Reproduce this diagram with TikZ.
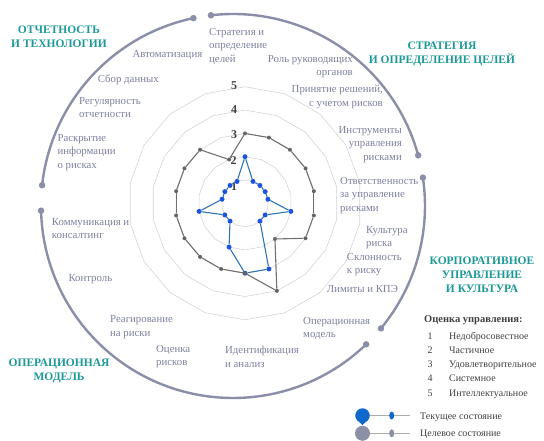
\documentclass[tikz,border=0pt]{standalone}
\usepackage{fontspec}
\setmainfont{Liberation Serif}
\usepackage{tikz}
\usetikzlibrary{calc,positioning,shapes.geometric}
\definecolor{axlbl}{RGB}{125,128,158}
\definecolor{grpc}{RGB}{27,152,152}
\definecolor{arcc}{RGB}{138,142,168}
\definecolor{curc}{RGB}{46,117,182}
\definecolor{curdot}{RGB}{28,84,224}
\definecolor{tgtc}{RGB}{112,112,112}
\definecolor{tgtdot}{RGB}{100,100,100}
\definecolor{ringc}{RGB}{212,212,212}
\definecolor{legtxt}{RGB}{64,64,64}
\definecolor{pinc}{RGB}{15,105,205}
\definecolor{pingray}{RGB}{140,144,165}
\tikzset{lbl/.style={text=axlbl,font=\fontsize{10.8}{13.5}\selectfont,inner sep=0pt},
grp/.style={text=grpc,font=\fontsize{11.5}{14}\selectfont\bfseries,align=center,inner sep=0pt,anchor=north},
legitem/.style={text=legtxt,font=\fontsize{10}{12}\selectfont,inner sep=0pt}}
\def\lv{23.3}
\begin{document}
\begin{tikzpicture}[x=1pt,y=-1pt,
	cur/.style={fill=curdot,circle,inner sep=0pt,minimum size=5pt},
	tgt/.style={fill=tgtdot,circle,inner sep=0pt,minimum size=4pt},
	arcdot/.style={fill=arcc,circle,inner sep=0pt,minimum size=6.5pt},
	ringline/.style={draw=ringc,line width=.6pt},
	lvl/.style={text=legtxt,font=\fontsize{12}{12}\selectfont\bfseries,inner sep=0pt}]
	\useasboundingbox (0,0) rectangle (544,441);
	\coordinate (C) at (245,203.3);
	\coordinate (O) at (233,206);

	% rings
	\foreach \k in {1,...,5}
		\draw[ringline] ([shift={(C)}]-90:{\k*\lv}) \foreach \i in {1,...,17}{ -- ([shift={(C)}]{-90+20*\i}:{\k*\lv})} -- cycle;

	\node[lvl] (n5) at (234,85.5) {5};
	\node[lvl] (n4) at (234,110) {4};
	\node[lvl] (n3) at (234,135) {3};
	\node[lvl] (n2) at (233.5,161) {2};
	\node[lvl] (n1) at (234,187) {1};

	% current state
	\foreach \v [count=\i from 0] in {2,1,1,1,1,2,1,1,3,3,2,1,1,2,1,1,1,1}
		\node[cur] (b\i) at ([shift={(C)}]{-90+20*\i}:{\v*\lv}) {};
	\foreach \i in {0,...,17}{
		\pgfmathtruncatemacro\nx{mod(\i+1,18)}
		\draw[curc,line width=1.1pt] (b\i) -- (b\nx);
	}

	% target state
	\foreach \v [count=\i from 0] in {3,3,3,3,3,3,3,2,4,3,3,3,3,3,3,3,3,2}
		\node[tgt] (g\i) at ([shift={(C)}]{-90+20*\i}:{\v*\lv}) {};
	\foreach \i in {0,...,17}{
		\pgfmathtruncatemacro\nx{mod(\i+1,18)}
		\draw[tgtc,line width=1.1pt] (g\i) -- (g\nx);
	}

	% axis labels
	\node[lbl,anchor=north west,align=left] (l0) at (209,28) {Стратегия и\\определение\\целей};
	\node[lbl,anchor=north east,align=right] (l1) at (353,55) {Роль руководящих\\органов};
	\node[lbl,anchor=north east,align=right] (l2) at (383,85) {Принятие решений,\\с учетом рисков};
	\node[lbl,anchor=north east,align=right] (l3) at (402,126) {Инструменты\\управления\\рисками};
	\node[lbl,anchor=north west,align=left] (l4) at (340,177) {Ответственность\\за управление\\рисками};
	\node[lbl,anchor=north west,align=left] (l5) at (366,226) {Культура\\риска};
	\node[lbl,anchor=north west,align=left] (l6) at (346.7,253) {Склонность\\к риску};
	\node[lbl,anchor=north west] (l7) at (326.7,285) {Лимиты и КПЭ};
	\node[lbl,anchor=north west,align=left] (l8) at (303,317) {Операционная\\модель};
	\node[lbl,anchor=north west,align=left] (l9) at (225,346) {Идентификация\\и анализ};
	\node[lbl,anchor=north west,align=left] (l10) at (156,345) {Оценка\\рисков};
	\node[lbl,anchor=north west,align=left] (l11) at (110,315.5) {Реагирование\\на риски};
	\node[lbl,anchor=north west] (l12) at (68.3,274) {Контроль};
	\node[lbl,anchor=north west,align=left] (l13) at (51.7,218) {Коммуникация и\\консалтинг};
	\node[lbl,anchor=north west,align=left] (l14) at (57.3,134) {Раскрытие\\информации\\о рисках};
	\node[lbl,anchor=north west,align=left] (l15) at (79,97) {Регулярность\\отчетности};
	\node[lbl,anchor=north west] (l16) at (97.7,75) {Сбор данных};
	\node[lbl,anchor=north west] (l17) at (132.3,50) {Автоматизация};

	% group arcs
	\foreach \s/\e/\n in {-173.8/-101.9/1,-96.6/-15.3/2,-8.5/39.6/3,46.1/178.6/4}{
		\draw[arcc,line width=2.4pt] ([shift={(O)}]\s:192) arc[start angle=\s,end angle=\e,radius=192];
		\node[arcdot] (s\n) at ([shift={(O)}]\s:192) {};
		\node[arcdot] (e\n) at ([shift={(O)}]\e:192) {};
	}

	\node[grp] (t1) at (59,26) {ОТЧЕТНОСТЬ\\И ТЕХНОЛОГИИ};
	\node[grp] (t2) at (442,42) {СТРАТЕГИЯ\\И ОПРЕДЕЛЕНИЕ ЦЕЛЕЙ};
	\node[grp] (t3) at (482,257) {КОРПОРАТИВНОЕ\\УПРАВЛЕНИЕ\\И КУЛЬТУРА};
	\node[grp] (t4) at (59,359) {ОПЕРАЦИОННАЯ\\МОДЕЛЬ};

	% legend
	\node[legitem,font=\fontsize{10.5}{12}\selectfont\bfseries,anchor=north west] (lt) at (424,315) {Оценка управления:};
	\foreach \n/\t [count=\j from 0] in {1/Недобросовестное,2/Частичное,3/Удовлетворительное,4/Системное,5/Интеллектуальное}{
		\node[legitem,anchor=base] (ln\n) at (430,{339.3+14.2*\j}) {\n};
		\node[legitem,anchor=base west] (lx\n) at (449,{339.3+14.2*\j}) {\t};
	}

	\node[circle,fill=pinc,minimum size=14.5pt,inner sep=0pt] (pinCur) at (362.5,415.5) {};
	\fill[pinc] (357.3,420) -- (362.5,425) -- (367.7,420) -- cycle;
	\coordinate (curEnd) at (410,415.5);
	\draw[black!33,line width=1.1pt] (pinCur) -- (curEnd);
	\node[ellipse,fill=pinc,minimum width=5pt,minimum height=8pt,inner sep=0pt] (curMk) at (391.7,415.5) {};
	\node[legitem,anchor=base west] (curTxt) at (420,419) {Текущее  состояние};

	\node[circle,fill=pingray,minimum size=15pt,inner sep=0pt] (pinTgt) at (362.5,433.3) {};
	\coordinate (tgtEnd) at (410,433.3);
	\draw[black!33,line width=1.1pt] (pinTgt) -- (tgtEnd);
	\node[ellipse,fill=pingray,minimum width=5pt,minimum height=8pt,inner sep=0pt] (tgtMk) at (391.7,433.3) {};
	\node[legitem,anchor=base west] (tgtTxt) at (420,436.8) {Целевое состояние};
\end{tikzpicture}
\end{document}
